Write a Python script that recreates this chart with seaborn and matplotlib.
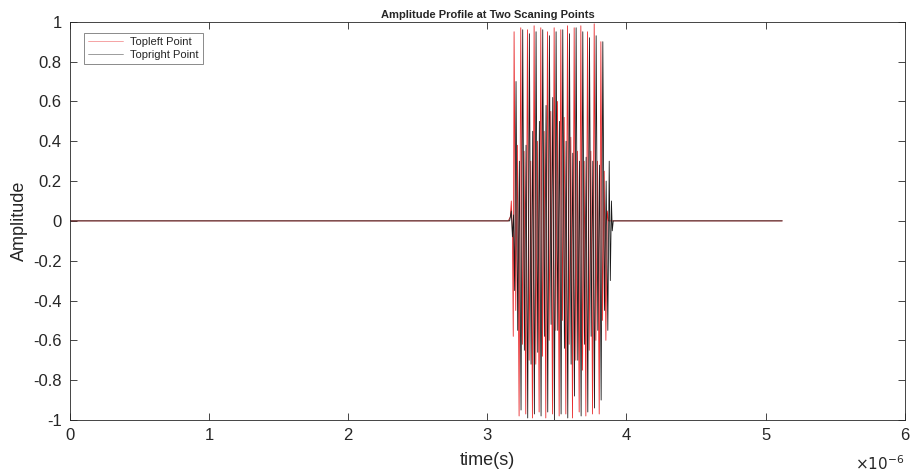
import numpy as np
import pandas as pd
import matplotlib
matplotlib.use("Agg")
import matplotlib.pyplot as plt
import seaborn as sns

# Extremes of each trace (time in microseconds, amplitude)
topleft_t = [0.0, 3.150, 3.165, 3.172, 3.180, 3.186, 3.192, 3.204, 3.216, 3.228,
             3.240, 3.252, 3.264, 3.276, 3.288, 3.300, 3.312, 3.324, 3.336, 3.348,
             3.360, 3.372, 3.384, 3.396, 3.408, 3.420, 3.432, 3.444, 3.456, 3.468,
             3.480, 3.492, 3.504, 3.516, 3.528, 3.540, 3.552, 3.564, 3.576, 3.588,
             3.600, 3.612, 3.624, 3.636, 3.648, 3.660, 3.672, 3.684, 3.696, 3.708,
             3.720, 3.732, 3.744, 3.756, 3.768, 3.780, 3.792, 3.804, 3.816, 3.828,
             3.840, 3.852, 3.862, 3.870, 5.120]
topleft_a = [0.0, 0.0, 0.02, 0.10, -0.06, -0.58, 0.95, -0.45, 0.38, -0.98,
             0.97, -0.62, 0.35, -0.97, 0.96, -0.70, 0.30, -0.99, 0.98, -0.72,
             0.40, -0.96, 0.97, -0.68, 0.45, -0.99, 0.95, -0.60, 0.55, -0.97,
             0.97, -0.55, 0.60, -0.98, 0.96, -0.50, 0.52, -0.97, 0.98, -0.62,
             0.42, -0.99, 0.97, -0.70, 0.35, -0.96, 0.98, -0.75, 0.30, -0.98,
             0.95, -0.65, 0.35, -0.97, 0.99, -0.60, 0.30, -0.97, 0.90, -0.50,
             0.25, -0.60, 0.05, 0.0, 0.0]

topright_t = [0.0, 3.160, 3.172, 3.180, 3.188, 3.196, 3.206, 3.218, 3.230, 3.242,
              3.254, 3.266, 3.278, 3.290, 3.302, 3.314, 3.326, 3.338, 3.350, 3.362,
              3.374, 3.386, 3.398, 3.410, 3.422, 3.434, 3.446, 3.458, 3.470, 3.482,
              3.494, 3.506, 3.518, 3.530, 3.542, 3.554, 3.566, 3.578, 3.590, 3.602,
              3.614, 3.626, 3.638, 3.650, 3.662, 3.674, 3.686, 3.698, 3.710, 3.722,
              3.734, 3.746, 3.758, 3.770, 3.782, 3.794, 3.806, 3.818, 3.830, 3.842,
              3.854, 3.866, 3.876, 3.884, 3.892, 3.898, 3.905, 5.120]
topright_a = [0.0, 0.0, 0.05, -0.08, 0.03, -0.35, 0.70, -0.55, 0.30, -0.95,
              0.96, -0.65, 0.38, -0.99, 0.94, -0.72, 0.45, -0.97, 0.95, -0.66,
              0.50, -0.98, 0.96, -0.58, 0.58, -0.96, 0.93, -0.52, 0.62, -1.00,
              0.95, -0.55, 0.50, -0.97, 0.96, -0.64, 0.40, -0.99, 0.94, -0.72,
              0.34, -0.88, 0.97, -0.70, 0.30, -0.98, 0.95, -0.62, 0.32, -0.96,
              0.92, -0.58, 0.30, -0.94, 0.93, -0.55, 0.28, -0.90, 0.90, -0.45,
              0.20, -0.55, 0.30, -0.30, 0.10, -0.05, 0.0, 0.0]

series_names = ['Topleft Point', 'Topright Point']
series_colors = ['#e8292b', '#1a1a1a']

xticks = [0, 1, 2, 3, 4, 5, 6]
yticks = [-1, -0.8, -0.6, -0.4, -0.2, 0, 0.2, 0.4, 0.6, 0.8, 1]
ytick_labels = ['-1', '-0.8', '-0.6', '-0.4', '-0.2', '0', '0.2', '0.4', '0.6', '0.8', '1']

df = pd.concat([
    pd.DataFrame({'t': topleft_t, 'amp': topleft_a, 'point': series_names[0]}),
    pd.DataFrame({'t': topright_t, 'amp': topright_a, 'point': series_names[1]}),
])

sns.set_style("ticks")
plt.rcParams['font.family'] = ['Liberation Sans', 'DejaVu Sans']
plt.rcParams['axes.unicode_minus'] = False

fig = plt.figure(figsize=(9.11, 4.74), dpi=100)
ax = fig.add_axes([0.077, 0.114, 0.916, 0.840])

sns.lineplot(ax=ax, data=df, x='t', y='amp', hue='point',
             palette=dict(zip(series_names, series_colors)),
             estimator=None, sort=False, linewidth=0.6, legend=False)

ax.set_xlim(0, 6)
ax.set_ylim(-1, 1)
ax.set_xticks(xticks)
ax.set_xticklabels([str(v) for v in xticks])
ax.set_yticks(yticks)
ax.set_yticklabels(ytick_labels)
ax.tick_params(direction='in', top=True, right=True, labelsize=12,
               length=5, width=0.6, colors='#262626', pad=6)
for s in ax.spines.values():
    s.set_linewidth(0.6)
    s.set_color('#262626')

ax.set_xlabel('time(s)', fontsize=13, labelpad=6)
ax.set_ylabel('Amplitude', fontsize=13, labelpad=4)
ax.set_title('Amplitude Profile at Two Scaning Points', fontsize=8,
             fontweight='bold', pad=3)
ax.text(1.0, -0.085, r'$\times10^{-6}$', transform=ax.transAxes,
        ha='right', va='top', fontsize=11, color='#262626')

handles = [plt.Line2D([], [], color=c, linewidth=0.5, alpha=0.6) for c in series_colors]
leg = ax.legend(handles, series_names, loc='upper left', fontsize=8,
                frameon=True, fancybox=False, edgecolor='#555555',
                borderpad=0.35, handlelength=3.2, handletextpad=0.6,
                labelspacing=0.25, bbox_to_anchor=(0.01, 0.985))
leg.get_frame().set_linewidth(0.6)

fig.savefig('out.png', dpi=100)
